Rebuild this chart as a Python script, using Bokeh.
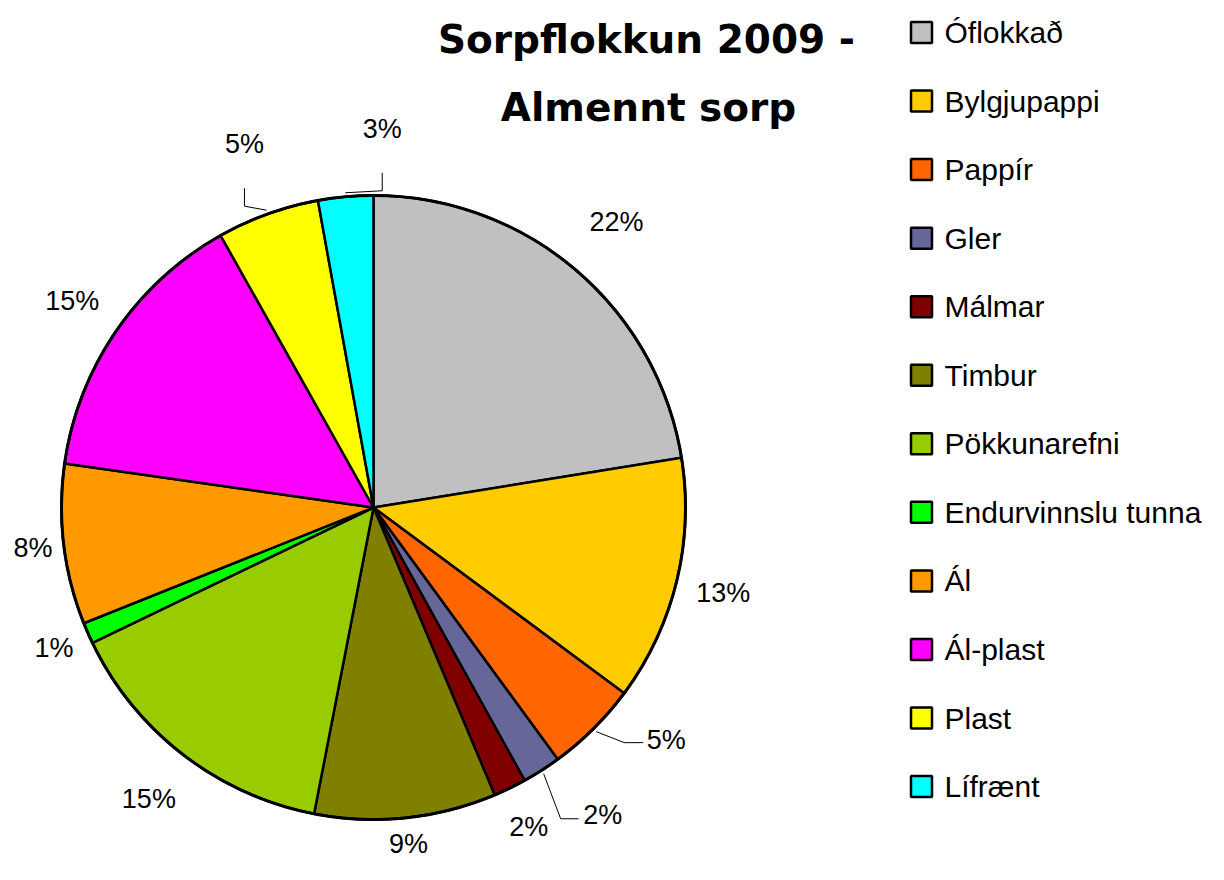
import math
from bokeh.plotting import figure
from bokeh.models import Range1d
from bokeh.core.properties import value
from bokeh.embed import file_html
from bokeh.resources import INLINE

# ---- data ----
categories = ["Óflokkað", "Bylgjupappi", "Pappír", "Gler", "Málmar", "Timbur",
              "Pökkunarefni", "Endurvinnslu tunna", "Ál", "Ál-plast", "Plast", "Lífrænt"]
shares = [22.45, 12.7, 4.8, 2.0, 1.7, 9.4, 14.8, 1.1, 8.3, 14.6, 5.3, 2.85]
colors = ["#C0C0C0", "#FFCC00", "#FF6600", "#666699", "#800000", "#808000",
          "#99CC00", "#00FF00", "#FF9900", "#FF00FF", "#FFFF00", "#00FFFF"]
title_lines = ["Sorpflokkun 2009 -", "Almennt sorp"]

# ---- layout (screen coords of the reference, y downward) ----
W, H = 1208, 864
CX, CY, R = 373, 507, 312
LABEL_R = [375, 360, None, None, 355, 338, 368, 349, 343, 365, None, None]
# leader lines: offsets of elbows from edge point, then label offset from last elbow
LEADERS = {
    2: ([(28, 11), (47, 11)], (23, -3)),
    3: ([(17, 45), (35, 45)], (24, -4)),
    10: ([(-22, -4), (-22, -22)], (0, -44)),
    11: ([(37, -2), (37, -20)], (0, -44)),
}
LEG_X, LEG_Y0, LEG_DY, LEG_SQ = 921, 32, 68.55, 21

def Y(y):
    return 880 - y

p = figure(width=W, height=H, x_range=Range1d(0, W), y_range=Range1d(880 - H, 880),
           output_backend="svg", toolbar_location=None, min_border=0)
p.axis.visible = False
p.grid.visible = False
p.outline_line_color = None
p.background_fill_color = "white"

total = sum(shares)
fr = [s / total for s in shares]
cum = [0.0]
for f in fr:
    cum.append(cum[-1] + f)

starts = [math.pi / 2 - 2 * math.pi * cum[i + 1] for i in range(len(fr))]
ends = [math.pi / 2 - 2 * math.pi * cum[i] for i in range(len(fr))]

p.wedge(x=CX, y=Y(CY), radius=R, start_angle=starts, end_angle=ends,
        fill_color=colors, line_color="black", line_width=2.5)
p.circle(x=CX, y=Y(CY), radius=R, fill_color=None, line_color="black", line_width=3)

label_font = value("Liberation Sans")
lx, ly, lt = [], [], []
for i, f in enumerate(fr):
    mid = 2 * math.pi * (cum[i] + cum[i + 1]) / 2
    sx, sy = math.sin(mid), -math.cos(mid)
    txt = f"{round(f * 100)}%"
    if i in LEADERS:
        elbows, off = LEADERS[i]
        ex, ey = CX + 316 * sx, CY + 316 * sy
        xs = [ex] + [ex + dx for dx, dy in elbows]
        ys = [ey] + [ey + dy for dx, dy in elbows]
        p.line(xs, [Y(v) for v in ys], line_color="black", line_width=1)
        tx, ty = xs[-1] + off[0], ys[-1] + off[1]
    else:
        tx, ty = CX + LABEL_R[i] * sx, CY + LABEL_R[i] * sy
    lx.append(tx)
    ly.append(Y(ty))
    lt.append(txt)

p.text(x=lx, y=ly, text=lt, text_align="center", text_baseline="middle",
       text_font=label_font, text_font_size="27px", text_color="black")

# title
p.text(x=[646, 648], y=[Y(39), Y(107)], text=title_lines, text_align="center",
       text_baseline="alphabetic", text_font=value("DejaVu Sans"),
       text_font_style="bold", text_font_size="39px", text_color="black")

# legend
ly_leg = [Y(LEG_Y0 + k * LEG_DY) for k in range(len(categories))]
p.rect(x=[LEG_X] * len(categories), y=ly_leg, width=LEG_SQ, height=LEG_SQ,
       fill_color=colors, line_color="black", line_width=2.5)
p.text(x=[LEG_X + 23] * len(categories), y=ly_leg, text=categories,
       text_align="left", text_baseline="middle", text_font=value("Liberation Sans"),
       text_font_size="30px", text_color="black")

open("out.html", "w").write(file_html(p, INLINE))
